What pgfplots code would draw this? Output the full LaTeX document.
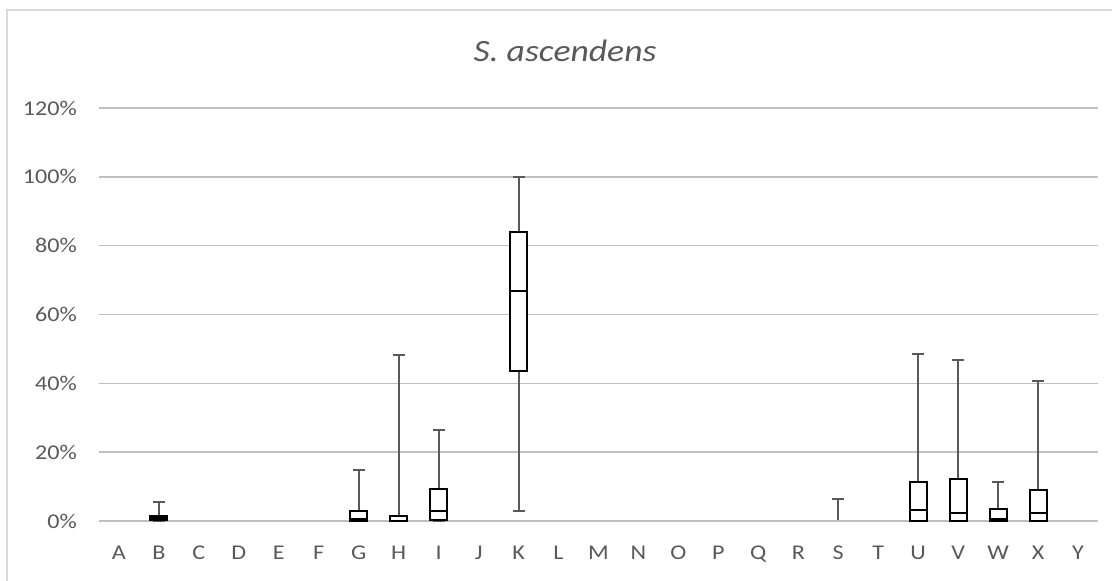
\documentclass[border=0pt]{standalone}
\usepackage{pgfplots}
\pgfplotsset{compat=1.18}
\usepgfplotslibrary{statistics}
\usepackage{fontspec}
\setmainfont{Carlito}[FakeStretch=1.15]
\definecolor{txt}{HTML}{595959}
\definecolor{grid}{HTML}{D9D9D9}
\definecolor{wgray}{HTML}{595959}
\definecolor{zgray}{HTML}{BFBFBF}
\begin{document}
\begin{tikzpicture}
\path[use as bounding box] (0,0) rectangle (556pt,290.5pt);
\draw[grid, line width=0.75pt] (3.5pt,-20pt) rectangle (600pt,285.5pt);
\node[anchor=base, text=txt, font=\fontsize{15.5}{18}\selectfont\itshape] at (282.5pt,259.5pt) {S. ascendens};
\begin{axis}[
  at={(49.5pt,30pt)}, anchor=south west,
  scale only axis, width=499.5pt, height=206.5pt,
  xmin=-0.5, xmax=24.5, ymin=0, ymax=1.2,
  boxplot/draw direction=y,
  axis line style={draw=none},
  major tick length=0pt,
  ytick={0,0.2,0.4,0.6,0.8,1.0,1.2},
  yticklabels={0\%,20\%,40\%,60\%,80\%,100\%,120\%},
  xtick={0,1,2,3,4,5,6,7,8,9,10,11,12,13,14,15,16,17,18,19,20,21,22,23,24},
  xticklabels={A,B,C,D,E,F,G,H,I,J,K,L,M,N,O,P,Q,R,S,T,U,V,W,X,Y},
  xmajorgrids=false, ymajorgrids=true, major grid style={grid, line width=0.75pt},
  tick label style={text=txt, font=\fontsize{10.5}{12}\selectfont},
  yticklabel style={xshift=-7.5pt},
  xticklabel style={yshift=-9pt},
  clip=false,
  boxplot/box extend=0.425,
  boxplot/whisker extend=0.3,
  boxplot/every box/.style={draw=black, line width=1pt, fill=white},
  boxplot/every median/.style={draw=black, line width=1pt},
  boxplot/every whisker/.style={draw=wgray, line width=1pt},
]
% zero categories
\addplot[draw=zgray, line width=0.75pt, boxplot prepared={lower whisker=0, lower quartile=0, median=0, upper quartile=0, upper whisker=0, draw position=0}, boxplot/every box/.style={draw=zgray}, boxplot/every median/.style={draw=zgray}] coordinates {};
\addplot[draw=zgray, line width=0.75pt, boxplot prepared={lower whisker=0, lower quartile=0, median=0, upper quartile=0, upper whisker=0, draw position=2}, boxplot/every box/.style={draw=zgray}, boxplot/every median/.style={draw=zgray}] coordinates {};
\addplot[draw=zgray, line width=0.75pt, boxplot prepared={lower whisker=0, lower quartile=0, median=0, upper quartile=0, upper whisker=0, draw position=3}, boxplot/every box/.style={draw=zgray}, boxplot/every median/.style={draw=zgray}] coordinates {};
\addplot[draw=zgray, line width=0.75pt, boxplot prepared={lower whisker=0, lower quartile=0, median=0, upper quartile=0, upper whisker=0, draw position=4}, boxplot/every box/.style={draw=zgray}, boxplot/every median/.style={draw=zgray}] coordinates {};
\addplot[draw=zgray, line width=0.75pt, boxplot prepared={lower whisker=0, lower quartile=0, median=0, upper quartile=0, upper whisker=0, draw position=5}, boxplot/every box/.style={draw=zgray}, boxplot/every median/.style={draw=zgray}] coordinates {};
\addplot[draw=zgray, line width=0.75pt, boxplot prepared={lower whisker=0, lower quartile=0, median=0, upper quartile=0, upper whisker=0, draw position=9}, boxplot/every box/.style={draw=zgray}, boxplot/every median/.style={draw=zgray}] coordinates {};
\addplot[draw=zgray, line width=0.75pt, boxplot prepared={lower whisker=0, lower quartile=0, median=0, upper quartile=0, upper whisker=0, draw position=11}, boxplot/every box/.style={draw=zgray}, boxplot/every median/.style={draw=zgray}] coordinates {};
\addplot[draw=zgray, line width=0.75pt, boxplot prepared={lower whisker=0, lower quartile=0, median=0, upper quartile=0, upper whisker=0, draw position=12}, boxplot/every box/.style={draw=zgray}, boxplot/every median/.style={draw=zgray}] coordinates {};
\addplot[draw=zgray, line width=0.75pt, boxplot prepared={lower whisker=0, lower quartile=0, median=0, upper quartile=0, upper whisker=0, draw position=13}, boxplot/every box/.style={draw=zgray}, boxplot/every median/.style={draw=zgray}] coordinates {};
\addplot[draw=zgray, line width=0.75pt, boxplot prepared={lower whisker=0, lower quartile=0, median=0, upper quartile=0, upper whisker=0, draw position=14}, boxplot/every box/.style={draw=zgray}, boxplot/every median/.style={draw=zgray}] coordinates {};
\addplot[draw=zgray, line width=0.75pt, boxplot prepared={lower whisker=0, lower quartile=0, median=0, upper quartile=0, upper whisker=0, draw position=15}, boxplot/every box/.style={draw=zgray}, boxplot/every median/.style={draw=zgray}] coordinates {};
\addplot[draw=zgray, line width=0.75pt, boxplot prepared={lower whisker=0, lower quartile=0, median=0, upper quartile=0, upper whisker=0, draw position=16}, boxplot/every box/.style={draw=zgray}, boxplot/every median/.style={draw=zgray}] coordinates {};
\addplot[draw=zgray, line width=0.75pt, boxplot prepared={lower whisker=0, lower quartile=0, median=0, upper quartile=0, upper whisker=0, draw position=17}, boxplot/every box/.style={draw=zgray}, boxplot/every median/.style={draw=zgray}] coordinates {};
\addplot[draw=zgray, line width=0.75pt, boxplot prepared={lower whisker=0, lower quartile=0, median=0, upper quartile=0, upper whisker=0, draw position=19}, boxplot/every box/.style={draw=zgray}, boxplot/every median/.style={draw=zgray}] coordinates {};
\addplot[draw=zgray, line width=0.75pt, boxplot prepared={lower whisker=0, lower quartile=0, median=0, upper quartile=0, upper whisker=0, draw position=24}, boxplot/every box/.style={draw=zgray}, boxplot/every median/.style={draw=zgray}] coordinates {};
% S: only whisker
\addplot[draw=zgray, boxplot prepared={lower whisker=0, lower quartile=0, median=0, upper quartile=0, upper whisker=0.063, draw position=18}, boxplot/every box/.style={draw=zgray, line width=0.75pt}, boxplot/every median/.style={draw=zgray, line width=0.75pt}] coordinates {};
% non-zero categories
\addplot[boxplot prepared={lower whisker=0, lower quartile=0.002, median=0.008, upper quartile=0.015, upper whisker=0.054, draw position=1}] coordinates {};
\addplot[boxplot prepared={lower whisker=0, lower quartile=0, median=0.006, upper quartile=0.030, upper whisker=0.148, draw position=6}] coordinates {};
\addplot[boxplot prepared={lower whisker=0, lower quartile=0, median=0, upper quartile=0.015, upper whisker=0.483, draw position=7}] coordinates {};
\addplot[boxplot prepared={lower whisker=0, lower quartile=0.003, median=0.030, upper quartile=0.093, upper whisker=0.265, draw position=8}] coordinates {};
\addplot[boxplot prepared={lower whisker=0.030, lower quartile=0.436, median=0.669, upper quartile=0.839, upper whisker=1.0, draw position=10}] coordinates {};
\addplot[boxplot prepared={lower whisker=0, lower quartile=0, median=0.031, upper quartile=0.114, upper whisker=0.486, draw position=20}] coordinates {};
\addplot[boxplot prepared={lower whisker=0, lower quartile=0, median=0.022, upper quartile=0.121, upper whisker=0.469, draw position=21}] coordinates {};
\addplot[boxplot prepared={lower whisker=0, lower quartile=0, median=0.005, upper quartile=0.035, upper whisker=0.112, draw position=22}] coordinates {};
\addplot[boxplot prepared={lower whisker=0, lower quartile=0, median=0.022, upper quartile=0.091, upper whisker=0.407, draw position=23}] coordinates {};
\end{axis}
\end{tikzpicture}
\end{document}
